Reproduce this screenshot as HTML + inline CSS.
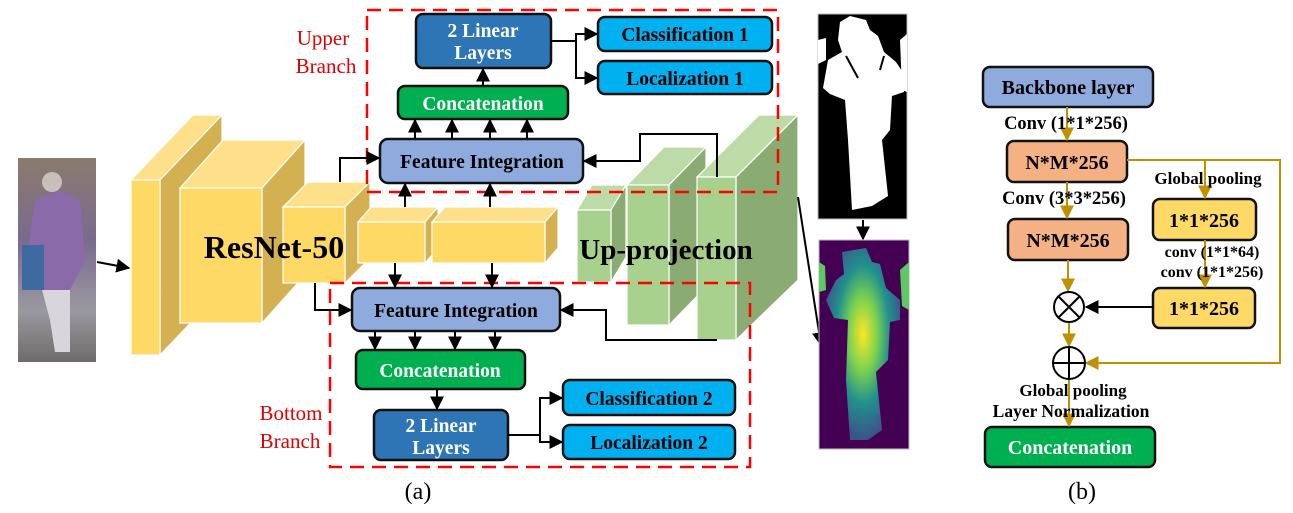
<!DOCTYPE html>
<html><head><meta charset="utf-8"><style>
html,body{margin:0;padding:0;background:#fff;}
svg{display:block;font-family:"Liberation Serif",serif;}
.b{font-weight:bold;}
</style></head><body>
<svg width="1293" height="513" viewBox="0 0 1293 513" xmlns="http://www.w3.org/2000/svg">
<defs>
<marker id="ah" viewBox="0 0 10 10" refX="9" refY="5" markerWidth="7" markerHeight="7" orient="auto-start-reverse"><path d="M0,0 L10,5 L0,10 z" fill="#000"/></marker>
<marker id="ag" viewBox="0 0 10 10" refX="9" refY="5" markerWidth="7" markerHeight="7" orient="auto-start-reverse"><path d="M0,0 L10,5 L0,10 z" fill="#bf9000"/></marker>
<linearGradient id="photo" x1="0" y1="0" x2="0" y2="1"><stop offset="0" stop-color="#8a7b6e"/><stop offset="0.4" stop-color="#7a6a8e"/><stop offset="0.75" stop-color="#9a98a0"/><stop offset="1" stop-color="#6e6c6a"/></linearGradient>
<radialGradient id="dep" cx="0.5" cy="0.45" r="0.55"><stop offset="0" stop-color="#fde725"/><stop offset="0.35" stop-color="#7ad151"/><stop offset="0.65" stop-color="#21918c"/><stop offset="1" stop-color="#3b528b"/></radialGradient>
</defs>

<g>
<rect x="18" y="158" width="78" height="204" fill="url(#photo)"/>
<path d="M35,200 L60,190 L80,200 L85,260 L70,290 L40,290 L28,250 Z" fill="#8a6aa8"/>
<path d="M42,290 L70,290 L70,352 L55,352 L50,320 Z" fill="#d8d6dc"/>
<circle cx="52" cy="182" r="10" fill="#c8c0b8"/>
<rect x="22" y="245" width="22" height="45" fill="#3e6aa0"/>
</g>
<line x1="97" y1="262" x2="129" y2="268" stroke="#000" stroke-width="2" marker-end="url(#ah)"/>

<g stroke="#fff" stroke-width="1.2">
<polygon points="131,180 160,180 222,115 193,115" fill="#ffe08a"/>
<polygon points="160,180 222,115 222,290 160,355" fill="#d4b150"/>
<rect x="131" y="180" width="29" height="175" fill="#ffd966"/>
<polygon points="180,188 262,188 305,140 223,140" fill="#ffe08a"/>
<polygon points="262,188 305,140 305,275 262,323" fill="#d4b150"/>
<rect x="180" y="188" width="82" height="135" fill="#ffd966"/>
<polygon points="283,207 345,207 370,182 308,182" fill="#ffe08a"/>
<polygon points="345,207 370,182 370,258 345,283" fill="#d4b150"/>
<rect x="283" y="207" width="62" height="76" fill="#ffd966"/>
<polygon points="358,222 425,222 438,207 371,207" fill="#ffe08a"/>
<polygon points="425,222 438,207 438,248 425,263" fill="#d4b150"/>
<rect x="358" y="222" width="67" height="41" fill="#ffd966"/>
<polygon points="432,222 545,222 558,207 445,207" fill="#ffe08a"/>
<polygon points="545,222 558,207 558,248 545,263" fill="#d4b150"/>
<rect x="432" y="222" width="113" height="41" fill="#ffd966"/>
</g>
<text x="274" y="258" font-size="32" class="b" text-anchor="middle">ResNet-50</text>

<g stroke="#fff" stroke-width="1.2">
<polygon points="577,210 611,210 626,185 592,185" fill="#bddba7"/>
<polygon points="611,210 626,185 626,257 611,282" fill="#8aab72"/>
<rect x="577" y="210" width="34" height="72" fill="#a9d18e"/>
<polygon points="627,185 669,185 706,147 664,147" fill="#bddba7"/>
<polygon points="669,185 706,147 706,287 669,325" fill="#8aab72"/>
<rect x="627" y="185" width="42" height="140" fill="#a9d18e"/>
<polygon points="697,177 736,177 798,115 759,115" fill="#bddba7"/>
<polygon points="736,177 798,115 798,280 736,340" fill="#8aab72"/>
<rect x="697" y="177" width="39" height="163" fill="#a9d18e"/>
</g>
<text x="666" y="259" font-size="29" class="b" text-anchor="middle">Up-projection</text>

<rect x="367" y="10" width="411" height="182" fill="none" stroke="#ff0000" stroke-width="2.5" stroke-dasharray="14,8"/>
<rect x="330" y="283" width="420" height="184" fill="none" stroke="#ff0000" stroke-width="2.5" stroke-dasharray="14,8"/>
<text x="324" y="45" font-size="21" fill="#e00000" text-anchor="middle"><tspan x="323">Upper</tspan><tspan x="326" dy="28">Branch</tspan></text>
<text x="290" y="420" font-size="21" fill="#e00000" text-anchor="middle"><tspan x="291">Bottom</tspan><tspan x="290" dy="28">Branch</tspan></text>

<g font-size="19.5" text-anchor="middle" stroke-width="2.5" font-weight="bold">
<rect x="416" y="14" width="135" height="54" rx="7" fill="#2e75b6" stroke="#111"/>
<text x="483" y="37" fill="#fff"><tspan x="483">2 Linear</tspan><tspan x="483" dy="22">Layers</tspan></text>
<rect x="598" y="17" width="174" height="34" rx="7" fill="#00b0f0" stroke="#111"/>
<text x="685" y="41">Classification 1</text>
<rect x="598" y="61" width="174" height="33" rx="7" fill="#00b0f0" stroke="#111"/>
<text x="685" y="85">Localization 1</text>
<rect x="398" y="86" width="170" height="33" rx="7" fill="#00b050" stroke="#111"/>
<text x="483" y="110" fill="#fff">Concatenation</text>
<rect x="380" y="139" width="203" height="44" rx="8" fill="#8faadc" stroke="#111"/>
<text x="482" y="168">Feature Integration</text>

<rect x="352" y="288" width="208" height="43" rx="8" fill="#8faadc" stroke="#111"/>
<text x="456" y="317">Feature Integration</text>
<rect x="356" y="350" width="169" height="39" rx="7" fill="#00b050" stroke="#111"/>
<text x="440" y="377" fill="#fff">Concatenation</text>
<rect x="374" y="410" width="134" height="50" rx="7" fill="#2e75b6" stroke="#111"/>
<text x="441" y="432" fill="#fff"><tspan x="441">2 Linear</tspan><tspan x="441" dy="22">Layers</tspan></text>
<rect x="563" y="380" width="172" height="35" rx="7" fill="#00b0f0" stroke="#111"/>
<text x="649" y="405">Classification 2</text>
<rect x="563" y="425" width="172" height="34" rx="7" fill="#00b0f0" stroke="#111"/>
<text x="649" y="449">Localization 2</text>
</g>

<g stroke="#000" stroke-width="2" fill="none" marker-end="url(#ah)">
<line x1="483" y1="86" x2="483" y2="69"/>
<polyline points="551,41 576,41 576,34 597,34"/>
<polyline points="576,41 576,78 597,78"/>
<line x1="415" y1="139" x2="415" y2="120"/>
<line x1="452" y1="139" x2="452" y2="120"/>
<line x1="490" y1="139" x2="490" y2="120"/>
<line x1="527" y1="139" x2="527" y2="120"/>
<polyline points="340,182 340,158 379,158"/>
<line x1="405" y1="207" x2="405" y2="184"/>
<line x1="490" y1="207" x2="490" y2="184"/>
<line x1="395" y1="263" x2="395" y2="287"/>
<line x1="492" y1="263" x2="492" y2="287"/>
<polyline points="315,283 315,310 351,310"/>
<line x1="375" y1="331" x2="375" y2="349"/>
<line x1="415" y1="331" x2="415" y2="349"/>
<line x1="455" y1="331" x2="455" y2="349"/>
<line x1="495" y1="331" x2="495" y2="349"/>
<line x1="437" y1="389" x2="437" y2="409"/>
<polyline points="508,435 540,435 540,398 562,398"/>
<polyline points="540,435 540,442 562,442"/>
<polyline points="717,177 717,134 640,134 640,161 584,161"/>
<polyline points="717,340 606,340 606,310 561,310"/>
<line x1="798" y1="197" x2="821" y2="345"/>
<line x1="863" y1="220" x2="863" y2="239"/>
</g>

<g>
<rect x="818" y="14" width="89" height="205" fill="#000" stroke="#bbb" stroke-width="1"/>
<path d="M840,22 L850,16 L866,20 L870,30 L878,36 L884,52 L896,62 L904,74 L904,92 L892,96 L890,130 L882,140 L888,196 L872,206 L852,210 L848,140 L845,100 L830,94 L823,88 L828,60 L842,52 L838,40 Z" fill="#fff"/>
<path d="M818,40 L826,38 L826,60 L818,64 Z M900,40 L907,34 L907,92 L902,90 Z" fill="#fff"/>
<path d="M846,56 L858,78 M884,56 L880,70" stroke="#000" stroke-width="2"/>
</g>
<g>
<rect x="819" y="240" width="90" height="209" fill="#440154" stroke="#bbb" stroke-width="1"/>
<path d="M842,252 L866,248 L872,262 L880,264 L886,288 L900,300 L900,320 L890,322 L888,360 L876,372 L882,430 L868,440 L850,440 L846,380 L848,320 L834,318 L826,300 L836,280 L844,274 Z" fill="url(#dep)"/>
<path d="M819,262 L825,266 L826,290 L819,292 Z M900,270 L909,262 L909,310 L902,306 Z" fill="#5ec962"/>
</g>

<g text-anchor="middle" stroke-width="2.5" font-weight="bold">
<rect x="983" y="67" width="170" height="40" rx="7" fill="#8faadc" stroke="#111"/>
<text x="1068" y="94" font-size="20">Backbone layer</text>
<rect x="1007" y="141" width="120" height="41" rx="7" fill="#f4b183" stroke="#111"/>
<text x="1067" y="169" font-size="20">N*M*256</text>
<rect x="1008" y="219" width="120" height="41" rx="7" fill="#f4b183" stroke="#111"/>
<text x="1068" y="247" font-size="20">N*M*256</text>
<rect x="1153" y="199" width="103" height="41" rx="7" fill="#ffd966" stroke="#111"/>
<text x="1204" y="227" font-size="20">1*1*256</text>
<rect x="1153" y="288" width="102" height="40" rx="7" fill="#ffd966" stroke="#111"/>
<text x="1204" y="315" font-size="20">1*1*256</text>
<rect x="985" y="427" width="170" height="40" rx="7" fill="#00b050" stroke="#111"/>
<text x="1070" y="454" fill="#fff" font-size="20">Concatenation</text>
</g>
<g stroke="#bf9000" stroke-width="2" fill="none">
<line x1="1067" y1="107" x2="1067" y2="140" marker-end="url(#ag)"/>
<line x1="1067" y1="182" x2="1067" y2="218" marker-end="url(#ag)"/>
<line x1="1068" y1="260" x2="1068" y2="291" marker-end="url(#ag)"/>
<line x1="1069" y1="322" x2="1069" y2="346" marker-end="url(#ag)"/>
<line x1="1069" y1="379" x2="1069" y2="426" marker-end="url(#ag)"/>
<polyline points="1127,160 1280,160 1280,363 1086,363" marker-end="url(#ag)"/>
<line x1="1205" y1="160" x2="1205" y2="198" marker-end="url(#ag)"/>
<line x1="1205" y1="240" x2="1205" y2="287" marker-end="url(#ag)"/>
</g>
<line x1="1153" y1="307" x2="1086" y2="307" stroke="#000" stroke-width="2" marker-end="url(#ah)"/>
<g stroke="#000" stroke-width="2" fill="none">
<g><circle cx="1069" cy="307" r="15" fill="#fff"/><line x1="1058" y1="296" x2="1080" y2="318"/><line x1="1080" y1="296" x2="1058" y2="318"/></g>
<g><circle cx="1069" cy="363" r="16" fill="#fff"/><line x1="1053" y1="363" x2="1085" y2="363"/><line x1="1069" y1="347" x2="1069" y2="379"/></g>
</g>
<g font-weight="bold" text-anchor="middle">
<text x="1066" y="129" font-size="18.5">Conv (1*1*256)</text>
<text x="1064" y="204" font-size="18.5">Conv (3*3*256)</text>
<text x="1208" y="184" font-size="17">Global pooling</text>
<text x="1212" y="257" font-size="16">conv (1*1*64)</text>
<text x="1212" y="277" font-size="16">conv (1*1*256)</text>
<text x="1073" y="396" font-size="17">Global pooling</text>
<text x="1071" y="417" font-size="17.5">Layer Normalization</text>
</g>

<text x="418" y="499" font-size="24" text-anchor="middle">(a)</text>
<text x="1082" y="499" font-size="24" text-anchor="middle">(b)</text>
</svg>
</body></html>
